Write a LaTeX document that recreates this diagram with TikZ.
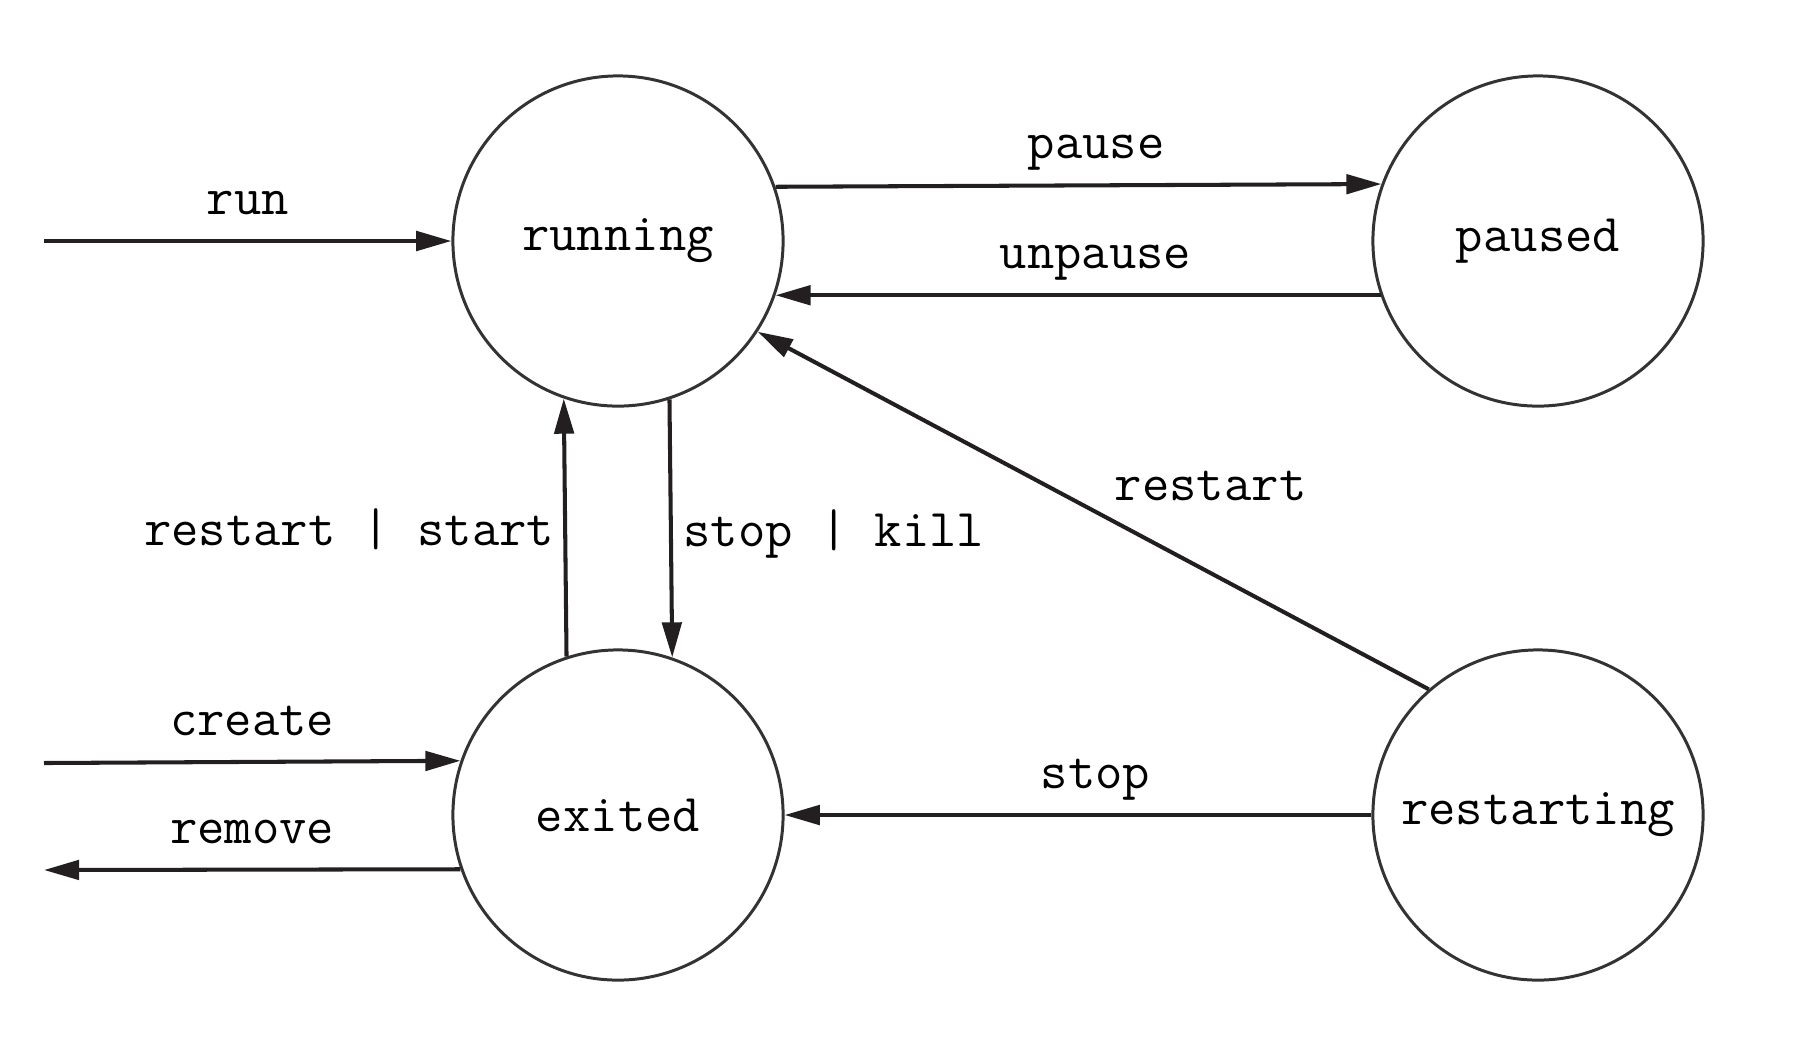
\documentclass[tikz,border=0pt]{standalone}
\usepackage{fontspec}
\usetikzlibrary{automata,positioning,arrows.meta}
\definecolor{edgeblack}{RGB}{35,31,32}
\definecolor{ringgray}{RGB}{51,51,51}

\begin{document}
\begin{tikzpicture}[
    x=0.01cm, y=-0.01cm,
    font=\ttfamily\fontsize{15.1}{18}\selectfont,
    >={Triangle[length=10pt,width=5.5pt]},
    every state/.style={draw=ringgray, line width=0.85pt, minimum size=3.3cm, inner sep=0pt},
    every edge/.style={draw=edgeblack, line width=1.15pt},
    lbl/.style={text depth=0.2em, inner sep=5pt}
]
    \useasboundingbox (0,0) rectangle (1800,1038);

    % Four states on a 2x2 grid:
    % running top left, paused top right, exited bottom left, restarting bottom right.
    \node[state] (running) at (618,241) {running};
    \node[state] (paused) at (1538,241) {paused};
    \node[state] (exited) at (618,815) {exited};
    \node[state] (restarting) at (1538,815) {restarting};

    % free ends on the left
    \coordinate (runin) at (44,241);
    \coordinate (createin) at (44,763);
    \coordinate (removeout) at (44,870);

    \path[->]
        (runin) edge node[lbl, above] {run} (running)
        (running.19.5) edge node[lbl, above, xshift=5pt] {pause} (paused.160.5)
        (paused.199.1) edge node[lbl, above, xshift=5pt] {unpause} (running.-19.1)
        (exited.108.7) edge node[lbl, left, inner sep=2.5pt, yshift=-1pt] {restart | start} (running.251.3)
        (running.288.7) edge node[lbl, right, inner sep=3pt, yshift=-1pt] {stop | kill} (exited.71.3)
        (restarting.131) edge node[lbl, pos=0.325, above=13pt] {restart} (running.-33)
        (restarting) edge node[lbl, above, xshift=5pt] {stop} (exited)
        (createin) edge node[lbl, above] {create} (exited.161.7)
        (exited.199.5) edge node[lbl, above] {remove} (removeout);
\end{tikzpicture}
\end{document}
